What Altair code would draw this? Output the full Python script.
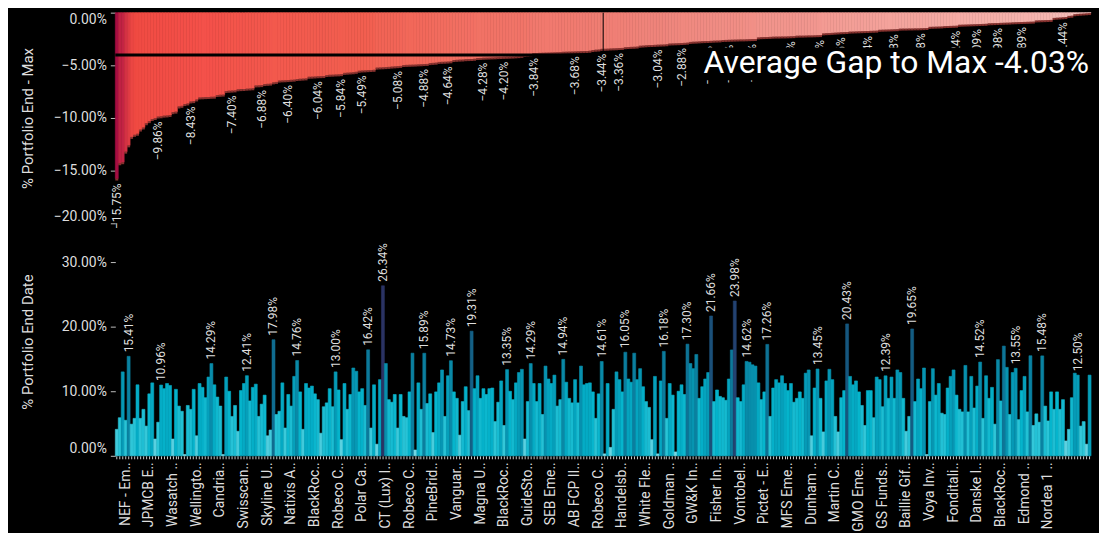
import json
import altair as alt
import pandas as pd

# ---------------- data ----------------
GAP_TO_MAX = [
    -15.75, -14.30, -14.20, -13.20, -12.60, -11.80, -11.60, -11.50, -11.10, -10.90,
    -10.50, -10.30, -10.10, -10.00, -9.86, -9.84, -9.78, -9.76, -9.72, -9.45,
    -9.40, -8.90, -8.85, -8.68, -8.62, -8.43, -8.40, -8.24, -8.05, -8.04,
    -8.02, -8.01, -7.99, -7.98, -7.82, -7.80, -7.78, -7.44, -7.42, -7.40,
    -7.38, -7.28, -7.26, -7.25, -7.22, -7.20, -7.18, -6.91, -6.90, -6.88,
    -6.78, -6.76, -6.74, -6.62, -6.58, -6.45, -6.43, -6.42, -6.40, -6.38,
    -6.36, -6.30, -6.28, -6.26, -6.24, -6.09, -6.08, -6.06, -6.04, -6.03,
    -6.02, -5.92, -5.90, -5.89, -5.87, -5.86, -5.84, -5.72, -5.70, -5.68,
    -5.66, -5.62, -5.52, -5.49, -5.48, -5.46, -5.45, -5.43, -5.22, -5.20,
    -5.19, -5.17, -5.15, -5.12, -5.10, -5.08, -5.06, -4.97, -4.96, -4.95,
    -4.94, -4.93, -4.91, -4.90, -4.88, -4.87, -4.79, -4.77, -4.75, -4.68,
    -4.67, -4.66, -4.64, -4.62, -4.50, -4.48, -4.46, -4.45, -4.42, -4.41,
    -4.40, -4.38, -4.31, -4.30, -4.28, -4.27, -4.26, -4.25, -4.24, -4.22,
    -4.21, -4.20, -4.19, -4.18, -4.17, -4.15, -4.13, -4.10, -4.02, -3.99,
    -3.95, -3.84, -3.83, -3.82, -3.81, -3.80, -3.79, -3.78, -3.77, -3.76,
    -3.75, -3.72, -3.71, -3.70, -3.69, -3.68, -3.67, -3.66, -3.65, -3.64,
    -3.62, -3.55, -3.52, -3.50, -3.44, -3.43, -3.42, -3.40, -3.39, -3.38,
    -3.36, -3.35, -3.28, -3.26, -3.25, -3.24, -3.22, -3.14, -3.12, -3.10,
    -3.08, -3.07, -3.06, -3.04, -3.03, -3.02, -3.00, -2.93, -2.92, -2.91,
    -2.90, -2.88, -2.87, -2.85, -2.78, -2.76, -2.75, -2.73, -2.71, -2.70,
    -2.69, -2.68, -2.66, -2.65, -2.64, -2.60, -2.59, -2.58, -2.57, -2.56,
    -2.55, -2.54, -2.54, -2.53, -2.52, -2.51, -2.50, -2.35, -2.33, -2.32,
    -2.31, -2.30, -2.28, -2.27, -2.27, -2.26, -2.26, -2.25, -2.24, -2.23,
    -2.19, -2.18, -2.18, -2.17, -2.16, -2.16, -2.15, -2.14, -2.13, -1.97,
    -1.95, -1.94, -1.92, -1.90, -1.88, -1.86, -1.85, -1.84, -1.80, -1.79,
    -1.78, -1.77, -1.76, -1.75, -1.74, -1.73, -1.72, -1.71, -1.63, -1.62,
    -1.61, -1.60, -1.59, -1.58, -1.57, -1.52, -1.51, -1.51, -1.50, -1.50,
    -1.49, -1.49, -1.48, -1.47, -1.46, -1.35, -1.34, -1.33, -1.32, -1.31,
    -1.28, -1.27, -1.26, -1.25, -1.24, -1.15, -1.14, -1.13, -1.12, -1.11,
    -1.10, -1.09, -1.08, -1.07, -1.06, -1.01, -1.00, -0.99, -0.98, -0.97,
    -0.96, -0.95, -0.94, -0.92, -0.91, -0.90, -0.89, -0.88, -0.87, -0.86,
    -0.85, -0.74, -0.73, -0.72, -0.71, -0.70, -0.69, -0.50, -0.48, -0.46,
    -0.44, -0.42, -0.31, -0.29, -0.15, -0.12, -0.10, -0.08, -0.06, -0.04,
]

END_DATE = [
    4.1, 5.9, 13.0, 5.5, 15.41, 4.9, 5.8, 11.0, 5.8, 7.2,
    4.6, 9.6, 11.3, 2.6, 5.2, 10.96, 10.4, 11.2, 10.9, 2.6,
    10.3, 7.7, 6.9, 0.2, 7.8, 7.2, 10.3, 3.1, 11.2, 10.6,
    9.0, 12.2, 14.29, 11.0, 9.1, 7.7, 0.2, 12.2, 10.0, 6.1,
    7.8, 3.8, 10.1, 11.2, 12.41, 8.5, 10.6, 11.1, 6.1, 8.0,
    9.4, 3.1, 4.0, 17.98, 6.4, 6.9, 11.3, 4.3, 9.5, 7.7,
    12.3, 14.76, 9.9, 4.1, 11.2, 10.5, 10.8, 9.6, 8.7, 3.5,
    7.6, 8.2, 10.4, 7.6, 13.00, 10.2, 2.5, 11.2, 7.2, 9.5,
    13.6, 13.1, 9.9, 10.4, 7.8, 16.42, 4.3, 11.0, 1.8, 11.8,
    26.34, 14.3, 8.7, 8.3, 9.5, 4.3, 9.5, 6.1, 5.9, 9.9,
    15.9, 0.9, 11.3, 7.2, 15.89, 8.1, 9.6, 3.6, 9.9, 11.3,
    13.3, 6.1, 12.4, 14.73, 9.9, 8.9, 3.2, 8.4, 10.7, 7.0,
    19.31, 10.4, 12.4, 8.9, 10.4, 9.5, 10.4, 10.5, 5.3, 8.3,
    11.6, 4.7, 13.35, 10.0, 8.7, 11.3, 12.9, 13.4, 2.6, 8.4,
    14.29, 11.2, 8.4, 11.2, 6.4, 13.9, 11.9, 11.2, 12.5, 7.7,
    8.7, 14.94, 11.4, 8.9, 8.2, 11.8, 8.2, 13.9, 11.0, 11.2,
    11.3, 9.9, 5.8, 9.6, 14.61, 0.3, 11.2, 1.3, 7.2, 13.0,
    11.8, 9.9, 16.05, 11.9, 11.4, 15.9, 11.8, 13.5, 10.7, 8.4,
    7.5, 2.5, 12.3, 0.3, 11.6, 16.18, 5.8, 11.2, 9.4, 0.6,
    10.0, 11.0, 9.5, 17.30, 14.3, 13.5, 15.7, 8.9, 10.7, 11.9,
    12.9, 21.66, 8.4, 10.2, 9.2, 9.0, 8.6, 11.9, 16.4, 23.98,
    9.0, 8.4, 11.0, 14.62, 14.5, 14.1, 13.9, 11.3, 8.7, 9.9,
    17.26, 6.1, 10.5, 11.8, 11.3, 12.4, 11.2, 10.1, 11.2, 8.3,
    8.9, 9.9, 8.9, 12.8, 13.3, 3.1, 10.5, 13.45, 8.9, 3.7,
    11.6, 13.4, 11.8, 6.1, 3.7, 9.0, 10.1, 20.43, 12.3, 11.0,
    11.6, 9.9, 7.8, 4.7, 10.1, 10.1, 5.9, 12.2, 11.8, 7.6,
    12.39, 8.9, 12.2, 8.9, 13.3, 12.9, 8.9, 3.8, 6.1, 19.65,
    8.4, 11.9, 10.4, 13.6, 0.2, 8.4, 13.5, 9.4, 11.2, 6.6,
    6.4, 10.5, 12.3, 13.3, 9.4, 7.2, 6.8, 14.0, 6.8, 12.3,
    7.4, 10.8, 14.52, 5.8, 12.4, 8.9, 10.6, 4.9, 14.9, 8.5,
    17.0, 13.7, 6.4, 12.9, 13.55, 5.6, 10.1, 12.3, 6.8, 15.5,
    4.7, 6.5, 5.2, 15.48, 7.7, 5.4, 9.9, 7.2, 9.9, 7.2,
    8.7, 2.3, 4.1, 9.0, 12.8, 12.50, 4.6, 5.3, 1.8, 12.5,
]

# x-axis labels that are readable (every 8th fund)
FUND_LABELS = [
    "NEF - Em..", "JPMCB E..", "Wasatch ..", "Wellingto..", "Candria..",
    "Swisscan..", "Skyline U..", "Natixis A..", "BlackRoc..", "Robeco C..",
    "Polar Ca..", "CT (Lux) I..", "Robeco C..", "PineBrid..", "Vanguar..",
    "Magna U..", "BlackRoc..", "GuideSto..", "SEB Eme..", "AB FCP II..",
    "Robeco C..", "Handelsb..", "White Fle..", "Goldman ..", "GW&K In..",
    "Fisher In..", "Vontobel..", "Pictet - E..", "MFS Eme..", "Dunham ..",
    "Martin C..", "GMO Eme..", "GS Funds..", "Baillie Gif..", "Voya Inv..",
    "Fonditali..", "Danske I..", "BlackRoc..", "Edmond ..", "Nordea 1 ..",
]

TOP_LABEL_IDX = [0, 14, 25, 39, 49, 58, 68, 76, 83, 95, 104, 112, 124, 131, 141,
                 155, 164, 170, 183, 191, 200, 207, 215, 228, 238, 245, 254, 263,
                 272, 284, 291, 298, 306, 320]
BOTTOM_LABEL_IDX = [4, 15, 32, 44, 53, 61, 74, 85, 90, 104, 113, 120, 132, 140, 151,
                    164, 172, 185, 193, 201, 209, 213, 220, 237, 247, 260, 269, 292,
                    304, 313, 325]

AVG_GAP = -4.03
MEDIAN_IDX = 165
AVG_TEXT = "Average Gap to Max -4.03%"

TOP_Y_TICKS = [0, -5, -10, -15, -20]
BOTTOM_Y_TICKS = [0, 10, 20, 30]

RED_DOMAIN = [-15.75, -11.5, -8.0, -5.5, -3.0, 0.0]
RED_RANGE = ["#a50d42", "#f04a42", "#f4514a", "#f25f50", "#ef857c", "#f6c4c0"]
TEAL_DOMAIN = [0, 5, 10, 15, 20, 26.34]
TEAL_RANGE = ["#7adbe8", "#2cc6d8", "#05b5cd", "#0a87a5", "#155a80", "#2b3364"]

assert len(GAP_TO_MAX) == 330, len(GAP_TO_MAX)
assert len(END_DATE) == 330, len(END_DATE)

# ---------------- chart ----------------
FONT = "Roboto"
TXT = "#dedede"
W = 982
H_TOP = 212
H_BOT = 230

N = len(GAP_TO_MAX)
IDX = list(range(N))
df_top = pd.DataFrame({"idx": IDX, "gap": GAP_TO_MAX})
df_bot = pd.DataFrame({"idx": IDX, "val": END_DATE})

xscale = alt.Scale(domain=IDX, paddingInner=0, paddingOuter=0)
pct_expr = "format(datum.value, '.2f') + '%'"

# ---- top panel: gap to max ----
top_base = alt.Chart(df_top)
x_top = alt.X("idx:O", scale=xscale, axis=None)
y_top = alt.Y(
    "gap:Q",
    scale=alt.Scale(domain=[-20, 0], nice=False),
    axis=alt.Axis(
        title="% Portfolio End - Max", values=TOP_Y_TICKS, labelExpr=pct_expr,
        titleX=-88, titleY=H_TOP / 2, titleAngle=270, titleAlign="center",
        titleBaseline="middle", labelFlush=True,
    ),
)
red_scale = alt.Scale(domain=RED_DOMAIN, range=RED_RANGE)
top_bars = top_base.mark_bar(strokeWidth=0.6).encode(
    x=x_top, y=y_top,
    color=alt.Color("gap:Q", scale=red_scale, legend=None),
    stroke=alt.Stroke("gap:Q", scale=red_scale, legend=None),
)
top_edge = top_base.mark_tick(thickness=2, size=3, color="#9c3a36", opacity=0.85, yOffset=1).encode(
    x=x_top, y=alt.Y("gap:Q")
)
top_labels = top_base.transform_filter(
    "indexof(%s, datum.idx) >= 0" % json.dumps(TOP_LABEL_IDX)
).transform_calculate(
    lbl="format(datum.gap, '.2f') + '%'"
).mark_text(angle=270, align="right", baseline="middle", dx=-5, fontSize=12,
            color=TXT, font=FONT).encode(x=x_top, y=alt.Y("gap:Q"), text="lbl:N")

avg_rule = alt.Chart(pd.DataFrame({"v": [AVG_GAP]})).mark_rule(
    color="black", strokeWidth=3).encode(y="v:Q")
median_rule = alt.Chart(pd.DataFrame({"m": [MEDIAN_IDX]})).mark_rule(
    color="black", strokeWidth=1).encode(
    x=alt.X("m:O", scale=xscale, axis=None, bandPosition=0),
    y=alt.value(0), y2=alt.value(H_TOP))

ann = pd.DataFrame({"t": [AVG_TEXT]})
ann_box = alt.Chart(ann).mark_rect(color="black").encode(
    x=alt.value(577), x2=alt.value(W), y=alt.value(35), y2=alt.value(68))
ann_text = alt.Chart(ann).mark_text(
    align="right", baseline="alphabetic", fontSize=32, color="white", font=FONT
).encode(x=alt.value(W - 2), y=alt.value(61), text="t:N")

top = alt.layer(top_bars, top_edge, avg_rule, median_rule, top_labels, ann_box, ann_text).properties(
    width=W, height=H_TOP)

# ---- bottom panel: % portfolio end date ----
shown = "datum.value %% 8 == 0 && datum.value / 8 < %d" % len(FUND_LABELS)
label_expr = "(%s) ? %s[datum.value / 8] : ''" % (shown, json.dumps(FUND_LABELS))
x_bot = alt.X(
    "idx:O", scale=xscale,
    axis=alt.Axis(title=None, labelExpr=label_expr, labelAngle=270, labelOverlap=False,
                  labelOffset=9, tickSize=3, tickColor="#cfcfcf", labelPadding=3,
                  labelFontSize={"condition": {"test": shown, "value": 14}, "value": 0},
                  labelLimit=72),
)
bot_base = alt.Chart(df_bot)
y_bot = alt.Y(
    "val:Q",
    scale=alt.Scale(domain=[0, 35.4], nice=False),
    axis=alt.Axis(
        title="% Portfolio End Date", values=BOTTOM_Y_TICKS, labelExpr=pct_expr,
        titleX=-88, titleY=H_BOT / 2, titleAngle=270, titleAlign="center",
        titleBaseline="middle", labelFlush=True,
    ),
)
teal_scale = alt.Scale(domain=TEAL_DOMAIN, range=TEAL_RANGE)
bot_bars = bot_base.mark_bar(strokeWidth=0.6).encode(
    x=x_bot, y=y_bot,
    color=alt.Color("val:Q", scale=teal_scale, legend=None),
    stroke=alt.Stroke("val:Q", scale=teal_scale, legend=None),
)
bot_labels = bot_base.transform_filter(
    "indexof(%s, datum.idx) >= 0" % json.dumps(BOTTOM_LABEL_IDX)
).transform_calculate(
    lbl="format(datum.val, '.2f') + '%'"
).mark_text(angle=270, align="left", baseline="middle", dx=4, fontSize=12,
            color=TXT, font=FONT).encode(x=x_bot, y=alt.Y("val:Q"), text="lbl:N")

bottom = alt.layer(bot_bars, bot_labels).properties(width=W, height=H_BOT)

chart = alt.vconcat(top, bottom, spacing=4, bounds="flush").resolve_scale(
    color="independent", stroke="independent"
).properties(
    background="black",
    padding={"left": 13, "top": 2, "right": 0, "bottom": 0},
).configure_view(stroke=None).configure_axis(
    labelFont=FONT, titleFont=FONT, labelColor=TXT, titleColor=TXT,
    labelFontSize=14, titleFontSize=15, titleFontWeight="normal",
    domain=False, grid=False, tickColor="#bdbdbd", tickSize=5, labelPadding=4,
)

chart.save("out.html", embed_options={"renderer": "svg", "actions": False})
